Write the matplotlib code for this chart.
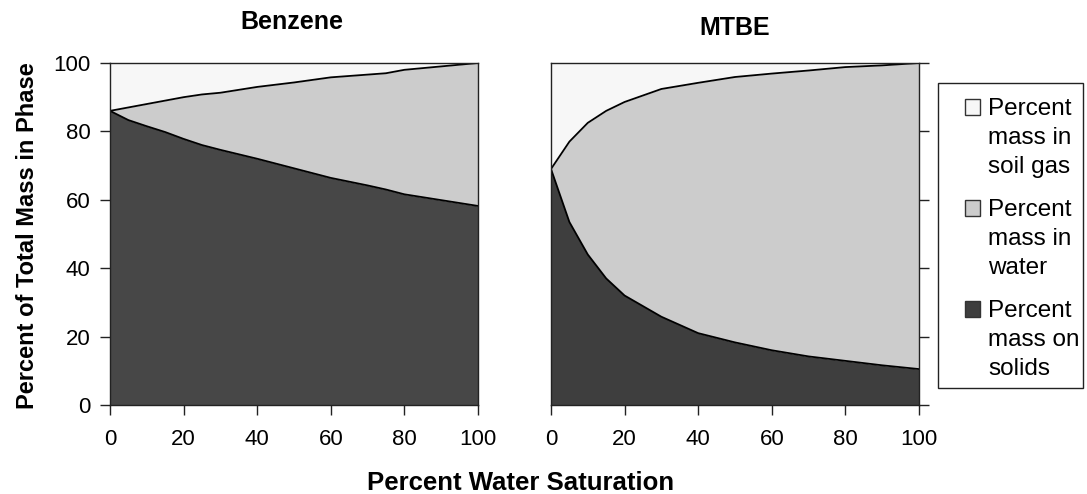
import matplotlib
matplotlib.use("Agg")
import matplotlib.pyplot as plt
from matplotlib.patches import Rectangle
import numpy as np

plt.rcParams['font.family'] = ['Liberation Sans', 'DejaVu Sans']

# percent water saturation
benz_x = [0, 5, 10, 15, 20, 25, 30, 40, 50, 60, 70, 75, 80, 90, 100]
# percent mass on solids (bottom band)
benz_solids = [86, 83.3, 81.5, 79.8, 77.8, 76.0, 74.6, 72.0, 69.2, 66.4, 64.2, 63.0, 61.6, 59.9, 58.2]
# solids + water (top of water band)
benz_total = [86, 87.0, 88.0, 89.0, 90.0, 90.8, 91.3, 93.0, 94.3, 95.8, 96.6, 97.0, 98.0, 99.0, 100]

mtbe_x = [0, 5, 10, 15, 20, 30, 40, 50, 60, 70, 80, 90, 100]
mtbe_solids = [69, 53.5, 44.0, 37.0, 32.0, 25.8, 21.0, 18.3, 16.0, 14.2, 12.9, 11.6, 10.5]
mtbe_total = [69, 77.0, 82.5, 86.0, 88.6, 92.4, 94.2, 95.9, 96.9, 97.8, 98.8, 99.3, 100]

legend_labels = [["Percent", "mass in", "soil gas"],
                 ["Percent", "mass in", "water"],
                 ["Percent", "mass on", "solids"]]
gas_color = "#f7f7f7"
water_color = "#cccccc"
solids_colors = ["#474747", "#3e3e3e"]

fig = plt.figure(figsize=(10.87, 4.94), dpi=100)
ax1 = fig.add_axes([0.1012, 0.1802, 0.3385, 0.6923])
ax2 = fig.add_axes([0.5069, 0.1802, 0.3385, 0.6923])

def draw_panel(ax, x, solids, total, solid_col):
    x = np.array(x)
    solids = np.array(solids)
    total = np.array(total)
    ax.fill_between(x, 0, solids, color=solid_col, linewidth=0)
    ax.fill_between(x, solids, total, color=water_color, linewidth=0)
    ax.fill_between(x, total, 100, color=gas_color, linewidth=0)
    ax.plot(x, solids, color="black", lw=1.3)
    ax.plot(x, total, color="black", lw=1.3)
    ax.set_xlim(0, 100)
    ax.set_ylim(0, 100)
    ax.set_xticks(np.arange(0, 101, 20))
    ax.set_yticks(np.arange(0, 101, 20))
    for s in ax.spines.values():
        s.set_color("#222222")
        s.set_linewidth(1.0)
    ax.tick_params(direction="out", length=7, width=1, labelsize=16, colors="#222222", labelcolor="black")
    ax.tick_params(axis="x", pad=10)

draw_panel(ax1, benz_x, benz_solids, benz_total, solids_colors[0])
draw_panel(ax2, mtbe_x, mtbe_solids, mtbe_total, solids_colors[1])

ax1.tick_params(axis="y", pad=7)
ax2.yaxis.tick_right()
ax2.tick_params(axis="y", labelright=False)

W, H = 1087.0, 494.0
fig.text(292 / W, 1 - 22 / H, "Benzene", ha="center", va="center", fontsize=18, fontweight="bold")
fig.text(735 / W, 1 - 28 / H, "MTBE", ha="center", va="center", fontsize=18, fontweight="bold")

fig.text(28 / W, 1 - 236 / H, "Percent of Total Mass in Phase", rotation=90, ha="center", va="center",
         fontsize=17, fontweight="bold")
fig.text(521 / W, 1 - 483 / H, "Percent Water Saturation", ha="center", va="center",
         fontsize=18.5, fontweight="bold")

# legend drawn by hand so squares line up with first text line
fig.patches.append(Rectangle((938 / W, 1 - 388 / H), 145 / W, 305 / H, transform=fig.transFigure,
                             facecolor="white", edgecolor="#222222", lw=1.0))
baselines = [115, 216, 317]
colors = [gas_color, water_color, "#3e3e3e"]
for base, lines, col in zip(baselines, legend_labels, colors):
    fig.patches.append(Rectangle((965 / W, 1 - base / H), 15 / W, 16 / H, transform=fig.transFigure,
                                 facecolor=col, edgecolor="#333333", lw=1.0))
    for k, line in enumerate(lines):
        fig.text(988 / W, 1 - (base + 29 * k) / H, line, ha="left", va="baseline", fontsize=17.5)

fig.savefig("out.png", dpi=100)
